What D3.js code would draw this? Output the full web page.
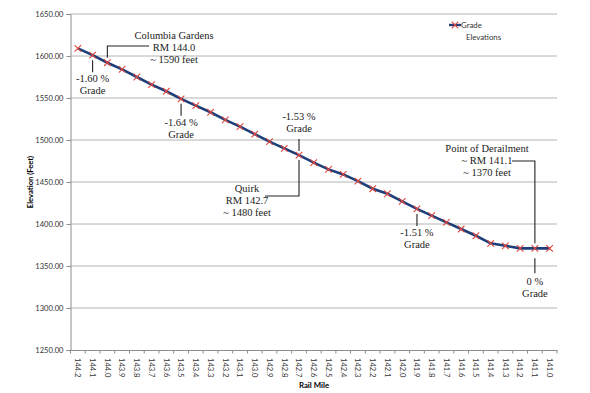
<!DOCTYPE html>
<html>
<head>
<meta charset="utf-8">
<script src="https://cdn.jsdelivr.net/npm/d3@7"></script>
<style>
  body { margin: 0; background: #fff; }
  svg { display: block; }
  .note { font-family: "Liberation Serif", "DejaVu Serif", serif; font-size: 10.5px; fill: #222; }
</style>
</head>
<body>
<svg width="590" height="393"></svg>
<script>
// rail miles along the x axis
const railMiles = ["144.2","144.1","144.0","143.9","143.8","143.7","143.6","143.5","143.4","143.3",
  "143.2","143.1","143.0","142.9","142.8","142.7","142.6","142.5","142.4","142.3","142.2","142.1",
  "142.0","141.9","141.8","141.7","141.6","141.5","141.4","141.3","141.2","141.1","141.0"];

// grade elevations (feet)
const elevations = [1609, 1601, 1592, 1584, 1575, 1566, 1558, 1549, 1541, 1533,
  1524, 1516, 1507, 1498, 1490, 1482, 1473, 1465, 1459, 1451, 1442, 1436,
  1427, 1418, 1410, 1402, 1394, 1386, 1377, 1374, 1371, 1371, 1371];

const yTicks = [1250, 1300, 1350, 1400, 1450, 1500, 1550, 1600, 1650];

// callouts: mile they point at, text lines, where the text sits
const grades = [
  { mile: "144.1", lines: ["-1.60 %", "Grade"], side: "below" },
  { mile: "143.5", lines: ["-1.64 %", "Grade"], side: "below" },
  { mile: "142.7", lines: ["-1.53 %", "Grade"], side: "above" },
  { mile: "141.9", lines: ["-1.51 %", "Grade"], side: "below" },
  { mile: "141.1", lines: ["0 %", "Grade"], side: "below" }
];

const svg = d3.select("svg");
const margin = { top: 14, right: 33, bottom: 43, left: 70.5 };
const width = 590 - margin.left - margin.right;
const height = 393 - margin.top - margin.bottom;
const sans = "Lato, 'Open Sans', sans-serif";

const g = svg.append("g").attr("transform", `translate(${margin.left},${margin.top})`);

const x = d3.scaleBand().domain(railMiles).range([0, width]).padding(0);
const y = d3.scaleLinear().domain([1250, 1650]).range([height, 0]);
const cx = m => x(m) + x.bandwidth() / 2;
const elevAt = m => elevations[railMiles.indexOf(m)];

// gridlines
g.append("g")
  .selectAll("line")
  .data(yTicks.slice(1))
  .join("line")
  .attr("x1", 0).attr("x2", width)
  .attr("y1", d => y(d)).attr("y2", d => y(d))
  .attr("stroke", "#b4b4b4").attr("stroke-width", 1);

// y axis
const yAxis = g.append("g")
  .call(d3.axisLeft(y).tickValues(yTicks).tickFormat(d3.format(".2f")).tickSize(4).tickPadding(3));
yAxis.select(".domain").attr("stroke", "#8c8c8c");
yAxis.selectAll(".tick line").attr("stroke", "#8c8c8c");
yAxis.selectAll("text")
  .style("font-family", sans)
  .style("font-size", "7.6px")
  .attr("fill", "#333");

// x axis, ticks between categories
const xAxis = g.append("g")
  .attr("transform", `translate(0,${height})`)
  .call(d3.axisBottom(x).tickSize(0).tickPadding(0));
xAxis.select(".domain").attr("stroke", "#8c8c8c");
xAxis.selectAll("text")
  .attr("transform", "rotate(90)")
  .attr("x", 8)
  .attr("y", 0)
  .attr("dy", "0.35em")
  .style("text-anchor", "start")
  .style("font-family", sans)
  .style("font-size", "7.6px")
  .attr("fill", "#333");
xAxis.append("g")
  .selectAll("line")
  .data(railMiles.concat(["end"]))
  .join("line")
  .attr("x1", (d, i) => i * x.step()).attr("x2", (d, i) => i * x.step())
  .attr("y1", 0).attr("y2", 3.5)
  .attr("stroke", "#8c8c8c");

// axis titles
svg.append("text")
  .attr("transform", `translate(33,${margin.top + height / 2}) rotate(-90)`)
  .attr("text-anchor", "middle")
  .style("font-family", sans)
  .style("font-size", "7.6px")
  .style("font-weight", "bold")
  .text("Elevation (Feet)");

svg.append("text")
  .attr("x", 314).attr("y", 388)
  .attr("text-anchor", "middle")
  .style("font-family", sans)
  .style("font-size", "7.8px")
  .style("font-weight", "bold")
  .text("Rail Mile");

// line + markers
const line = d3.line().x((d, i) => cx(railMiles[i])).y(d => y(d));
g.append("path")
  .datum(elevations)
  .attr("d", line)
  .attr("fill", "none")
  .attr("stroke", "#1c3f7a")
  .attr("stroke-width", 2.6);

const cross = d3.symbol().type(d3.symbolX).size(30);
g.append("g")
  .selectAll("path")
  .data(elevations)
  .join("path")
  .attr("transform", (d, i) => `translate(${cx(railMiles[i])},${y(d)})`)
  .attr("d", cross)
  .attr("fill", "none")
  .attr("stroke", "#e0463e")
  .attr("stroke-width", 1.1);

// grade callouts
const lineStroke = "#222";
grades.forEach(a => {
  const px = cx(a.mile), py = y(elevAt(a.mile));
  let l1, l2, t1;
  if (a.side === "below") { l1 = py + 5; l2 = py + 17; t1 = l2 + 10; }
  else { l1 = py - 4; l2 = py - 16; t1 = l2 - 19; }
  if (a.mile === "141.1") { l1 = py + 10; l2 = py + 25; t1 = l2 + 12; }
  g.append("line").attr("x1", px).attr("x2", px).attr("y1", l1).attr("y2", l2)
    .attr("stroke", lineStroke).attr("stroke-width", 1.1);
  const t = g.append("text").attr("class", "note").attr("text-anchor", "middle");
  a.lines.forEach((s, i) => t.append("tspan").attr("x", px).attr("y", t1 + i * 12).text(s));
});

// place callouts (Columbia Gardens, Quirk, Point of Derailment)
function place(mile, lines, tx, ty, elbowX, elbowY) {
  const px = cx(mile), py = y(elevAt(mile));
  const up = elbowY < py;
  g.append("path")
    .attr("d", `M${elbowX},${elbowY}H${px}V${up ? py - 5 : py + 5}`)
    .attr("fill", "none").attr("stroke", lineStroke).attr("stroke-width", 1.1);
  const t = g.append("text").attr("class", "note").attr("text-anchor", "middle");
  lines.forEach((s, i) => t.append("tspan").attr("x", tx).attr("y", ty + i * 12.2).text(s));
}

place("144.0", ["Columbia Gardens", "RM 144.0", "~ 1590 feet"], 174 - margin.left, 39 - margin.top, 149 - margin.left, 46 - margin.top);
place("142.7", ["Quirk", "RM 142.7", "~ 1480 feet"], 247 - margin.left, 192 - margin.top, 265 - margin.left, 196 - margin.top);
place("141.1", ["Point of Derailment", "~ RM 141.1", "~ 1370 feet"], 487 - margin.left, 152 - margin.top, 512 - margin.left, 161 - margin.top);

// legend
const lg = svg.append("g").attr("transform", "translate(449,25)");
lg.append("line").attr("x1", 0).attr("x2", 12).attr("y1", 0).attr("y2", 0)
  .attr("stroke", "#1c3f7a").attr("stroke-width", 2.4);
lg.append("path").attr("transform", "translate(6,0)").attr("d", cross)
  .attr("fill", "none").attr("stroke", "#e0463e").attr("stroke-width", 1.1);
lg.append("text").attr("x", 12).attr("y", 3)
  .style("font-family", sans).style("font-size", "7.8px").attr("fill", "#333")
  .text("Grade");
lg.append("text").attr("x", 17).attr("y", 14.5)
  .style("font-family", sans).style("font-size", "7.8px").attr("fill", "#333")
  .text("Elevations");
</script>
</body>
</html>
